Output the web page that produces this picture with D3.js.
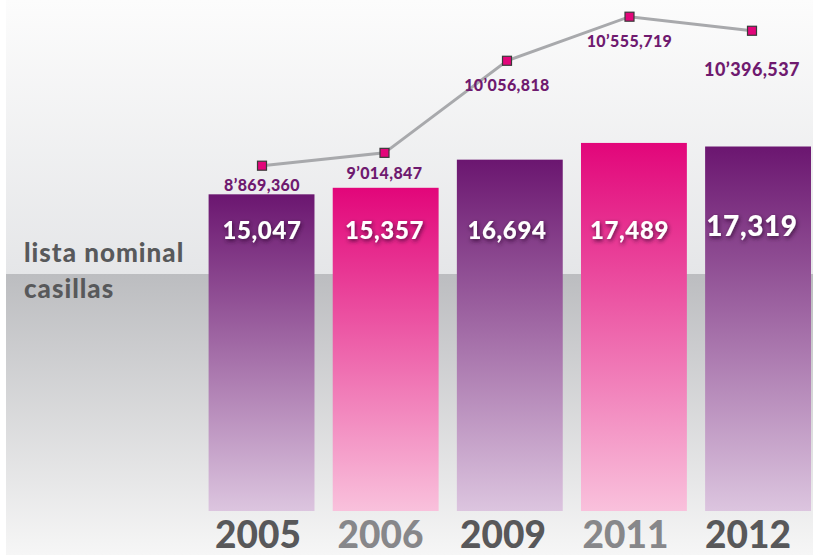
<!DOCTYPE html>
<html><head><meta charset="utf-8">
<script src="https://cdn.jsdelivr.net/npm/d3@7"></script>
<style>html,body{margin:0;padding:0;background:#fff;}svg{display:block;}</style>
</head><body>
<svg id="c" width="813" height="555"></svg>
<script>
// ---- data ----
const years = ["2005", "2006", "2009", "2011", "2012"];
const casillas = [15047, 15357, 16694, 17489, 17319];
const casillasLabels = ["15,047", "15,357", "16,694", "17,489", "17,319"];
const listaNominal = [8869360, 9014847, 10056818, 10555719, 10396537];
const listaLabels = ["8\u2019869,360", "9\u2019014,847", "10\u2019056,818", "10\u2019555,719", "10\u2019396,537"];
const seriesNames = ["lista nominal", "casillas"];

// ---- layout / style ----
const W = 813, H = 555;
const FONT = "Lato, 'Open Sans', sans-serif";
const barTone = ["purple", "pink", "purple", "pink", "purple"];
const yearColor = ["#58585a", "#87878a", "#58585a", "#87878a", "#58585a"];
const lineLabelDy = [25, 26, 30, 30, 45];
const lineLabelSize = [16, 16, 16, 16, 18];
const barLabelSize = [24, 24, 24, 24, 28];
const barLabelY = [239, 239, 239, 239, 236];

const svg = d3.select("#c");
const defs = svg.append("defs");

function vgrad(id, stops) {
  const g = defs.append("linearGradient").attr("id", id)
    .attr("x1", 0).attr("y1", 0).attr("x2", 0).attr("y2", 1);
  stops.forEach(s => g.append("stop").attr("offset", s[0]).attr("stop-color", s[1]));
}
vgrad("bgTop", [[0, "#fcfcfc"], [1, "#e5e6e8"]]);
vgrad("bgBot", [[0, "#bcbdc0"], [1, "#f6f6f6"]]);
vgrad("purple", [[0, "#6b1670"], [1, "#dcc5df"]]);
vgrad("pink", [[0, "#e2067a"], [1, "#f9c1dc"]]);

const f = defs.append("filter").attr("id", "shadow")
  .attr("x", "-20%").attr("y", "-30%").attr("width", "140%").attr("height", "160%");
f.append("feDropShadow").attr("dx", 1).attr("dy", 2).attr("stdDeviation", 2)
  .attr("flood-color", "#2a0a2a").attr("flood-opacity", 0.8);

// background
svg.append("rect").attr("x", 0).attr("y", 0).attr("width", W).attr("height", H).attr("fill", "#ffffff");
svg.append("rect").attr("x", 6).attr("y", 0).attr("width", W - 6).attr("height", 274).attr("fill", "url(#bgTop)");
svg.append("rect").attr("x", 6).attr("y", 274).attr("width", W - 6).attr("height", H - 274).attr("fill", "url(#bgBot)");

// scales
const x = d3.scaleBand().domain(years).range([208.6, 811]).paddingInner(0.147).paddingOuter(0);
const xp = d3.scalePoint().domain(years).range([262, 752]);
const yBar = d3.scaleLinear().domain([0, 24280]).range([511, 0]);
const yLine = d3.scaleLinear().domain([8869360, 10555719]).range([165.7, 16.7]);

// bars
svg.append("g").selectAll("rect").data(years).join("rect")
  .attr("x", d => x(d))
  .attr("width", x.bandwidth())
  .attr("y", (d, i) => yBar(casillas[i]))
  .attr("height", (d, i) => yBar(0) - yBar(casillas[i]))
  .attr("fill", (d, i) => `url(#${barTone[i]})`);

// bar value labels
svg.append("g").selectAll("text").data(years).join("text")
  .attr("x", d => xp(d))
  .attr("y", (d, i) => barLabelY[i])
  .attr("text-anchor", "middle")
  .attr("font-family", FONT).attr("font-weight", 900)
  .attr("font-size", (d, i) => barLabelSize[i])
  .attr("letter-spacing", 0.6)
  .attr("fill", "#ffffff").attr("filter", "url(#shadow)")
  .text((d, i) => casillasLabels[i]);

// line
const line = d3.line().x((d, i) => xp(years[i])).y(d => yLine(d));
svg.append("path").datum(listaNominal).attr("d", line)
  .attr("fill", "none").attr("stroke", "#a8a9ac").attr("stroke-width", 3);

svg.append("g").selectAll("rect").data(listaNominal).join("rect")
  .attr("x", (d, i) => xp(years[i]) - 4.5)
  .attr("y", d => yLine(d) - 4.5)
  .attr("width", 9).attr("height", 9)
  .attr("fill", "#e2067a").attr("stroke", "#3a3a3a").attr("stroke-width", 1.2);

svg.append("g").selectAll("text").data(listaNominal).join("text")
  .attr("x", (d, i) => xp(years[i]))
  .attr("y", (d, i) => yLine(d) + lineLabelDy[i])
  .attr("text-anchor", "middle")
  .attr("font-family", FONT).attr("font-weight", 900)
  .attr("font-size", (d, i) => lineLabelSize[i])
  .attr("letter-spacing", 0.4)
  .attr("fill", "#6f1a6f")
  .text((d, i) => listaLabels[i]);

// series labels at left
svg.append("text").attr("x", 24).attr("y", 262)
  .attr("font-family", FONT).attr("font-weight", 900).attr("font-size", 26)
  .attr("letter-spacing", 1).attr("fill", "#58595b").text(seriesNames[0]);
svg.append("text").attr("x", 24).attr("y", 298)
  .attr("font-family", FONT).attr("font-weight", 900).attr("font-size", 26)
  .attr("letter-spacing", 1).attr("fill", "#58595b").text(seriesNames[1]);

// year axis labels
svg.append("g").selectAll("text").data(years).join("text")
  .attr("x", d => xp(d) - 4)
  .attr("y", 548)
  .attr("text-anchor", "middle")
  .attr("font-family", FONT).attr("font-weight", 900).attr("font-size", 37)
  .attr("fill", (d, i) => yearColor[i])
  .text(d => d);
</script>
</body></html>
